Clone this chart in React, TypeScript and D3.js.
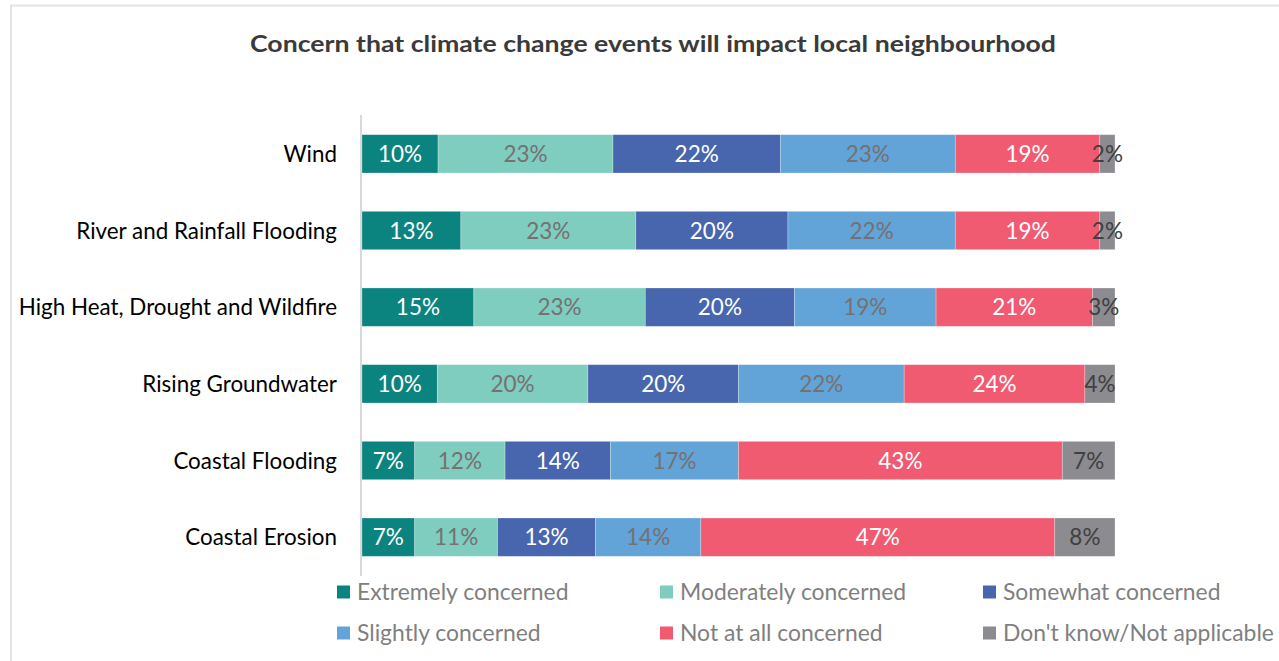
import React, { useEffect, useRef } from "react";
import * as d3 from "d3";

const categories = [
  "Wind",
  "River and Rainfall Flooding",
  "High Heat, Drought and Wildfire",
  "Rising Groundwater",
  "Coastal Flooding",
  "Coastal Erosion",
];
const seriesNames = [
  "Extremely concerned",
  "Moderately concerned",
  "Somewhat concerned",
  "Slightly concerned",
  "Not at all concerned",
  "Don't know/Not applicable",
];
const extremely = [10, 13, 15, 10, 7, 7];
const moderately = [23, 23, 23, 20, 12, 11];
const somewhat = [22, 20, 20, 20, 14, 13];
const slightly = [23, 22, 19, 22, 17, 14];
const notAtAll = [19, 19, 21, 24, 43, 47];
const dontKnow = [2, 2, 3, 4, 7, 8];

const colors = ["#0b8480", "#7ecdbf", "#4866ae", "#62a3d8", "#f05b72", "#8c8b90"];
const labelColors = ["#ffffff", "#767171", "#ffffff", "#767171", "#ffffff", "#404040"];

const W = 1279;
const H = 661;
const FONT = "Lato, 'Open Sans', sans-serif";

export default function App() {
  const ref = useRef<SVGSVGElement | null>(null);

  useEffect(() => {
    const svg = d3.select(ref.current);
    svg.selectAll("*").remove();

    const seriesValues = [extremely, moderately, somewhat, slightly, notAtAll, dontKnow];
    const rows = categories.map((c, i) => {
      const r: any = { category: c };
      seriesNames.forEach((s, j) => (r[s] = seriesValues[j][i]));
      return r;
    });
    const stack = d3.stack().keys(seriesNames).offset(d3.stackOffsetExpand);
    const stacked = stack(rows);

    const x = d3.scaleLinear().domain([0, 1]).range([362, 1115]);
    const y = d3
      .scaleBand()
      .domain(categories)
      .range([115.5, 575.5])
      .paddingInner(0.5)
      .paddingOuter(0.25);

    // frame
    svg.append("rect").attr("x", 0).attr("y", 0).attr("width", W).attr("height", H).attr("fill", "#fff");
    svg.append("line").attr("x1", 11).attr("x2", 11).attr("y1", 5).attr("y2", H).attr("stroke", "#e3e3e3").attr("stroke-width", 2);
    svg.append("line").attr("x1", 10).attr("x2", W).attr("y1", 5.5).attr("y2", 5.5).attr("stroke", "#e3e3e3").attr("stroke-width", 2);

    // title
    svg
      .append("text")
      .attr("x", 653)
      .attr("y", 52)
      .attr("text-anchor", "middle")
      .attr("font-family", FONT)
      .attr("font-weight", 700)
      .attr("font-size", 22)
      .attr("fill", "#3a3a3a")
      .attr("textLength", 806)
      .attr("lengthAdjust", "spacingAndGlyphs")
      .text("Concern that climate change events will impact local neighbourhood");

    // bars
    const g = svg.append("g");
    stacked.forEach((layer, j) => {
      const lg = g.append("g");
      lg.selectAll("rect")
        .data(layer)
        .join("rect")
        .attr("x", (d: any) => x(d[0]))
        .attr("y", (d: any) => y(d.data.category)!)
        .attr("width", (d: any) => x(d[1]) - x(d[0]))
        .attr("height", y.bandwidth())
        .attr("fill", colors[j])
        .attr("stroke", "#ffffff")
        .attr("stroke-opacity", 0.35)
        .attr("stroke-width", 0.75);
      lg.selectAll("text")
        .data(layer)
        .join("text")
        .attr("x", (d: any) => (x(d[0]) + x(d[1])) / 2)
        .attr("y", (d: any) => y(d.data.category)! + y.bandwidth() / 2 + 8)
        .attr("text-anchor", "middle")
        .attr("font-family", FONT)
        .attr("font-size", 22.5)
        .attr("fill", labelColors[j])
        .text((d: any) => `${d.data[seriesNames[j]]}%`);
    });

    // axis line
    svg.append("line").attr("x1", 361).attr("x2", 361).attr("y1", 115).attr("y2", 576).attr("stroke", "#d9d9d9").attr("stroke-width", 2);

    // category labels
    svg
      .append("g")
      .selectAll("text")
      .data(categories)
      .join("text")
      .attr("x", 337)
      .attr("y", (d) => y(d)! + y.bandwidth() / 2 + 8)
      .attr("text-anchor", "end")
      .attr("font-family", FONT)
      .attr("font-size", 22.4)
      .attr("fill", "#000")
      .text((d) => d);

    // legend
    const lx = [337, 660, 983];
    const ly = [592, 633];
    const leg = svg.append("g");
    seriesNames.forEach((s, i) => {
      const cx = lx[i % 3];
      const cy = ly[Math.floor(i / 3)];
      leg.append("rect").attr("x", cx).attr("y", cy - 6.5).attr("width", 13).attr("height", 13).attr("fill", colors[i]);
      leg
        .append("text")
        .attr("x", cx + 20)
        .attr("y", cy + 8)
        .attr("font-family", FONT)
        .attr("font-size", 22.9)
        .attr("fill", "#7f7f7f")
        .text(s);
    });
  }, []);

  return (
    <div style={{ position: "absolute", left: 0, top: 0 }}>
      <svg ref={ref} width={W} height={H} style={{ display: "block" }} />
    </div>
  );
}
